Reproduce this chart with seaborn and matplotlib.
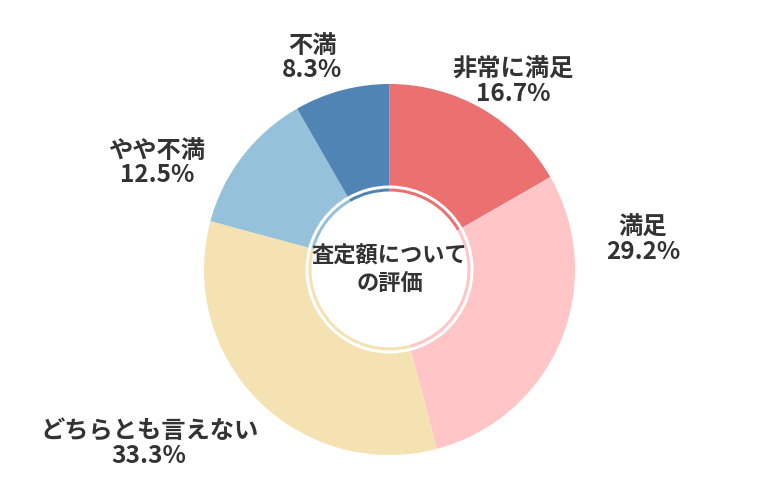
import matplotlib.pyplot as plt
import seaborn as sns

# survey result (percent)
categories = ['非常に満足', '満足', 'どちらとも言えない', 'やや不満', '不満']
shares = [16.7, 29.2, 33.3, 12.5, 8.3]
colors = ['#EB7070', '#FFC5C7', '#F5E2B3', '#95C1DA', '#4F84B5']
center_title = '査定額について\nの評価'

# label anchor positions in pixel coords (x, y from top)
label_pos = [(513, 82), (643, 240), (149, 444), (157, 163), (312, 58)]

sns.set_theme(style='white')
plt.rcParams['font.family'] = ['Noto Sans CJK JP', 'DejaVu Sans']

fig = plt.figure(figsize=(7.8, 5), dpi=100)
ax = fig.add_axes([0, 0, 1, 1])

cx, cy = 389.5, 500 - 269.5
r_out = 185.5

ax.pie(shares, colors=colors, startangle=90, counterclock=False,
       center=(cx, cy), radius=r_out, frame=True,
       wedgeprops=dict(width=r_out - 84, edgecolor='none', linewidth=0))
# thin inner ring
ax.pie(shares, colors=colors, startangle=90, counterclock=False,
       center=(cx, cy), radius=81, frame=True,
       wedgeprops=dict(width=3, edgecolor='none', linewidth=0))
ax.set_xlim(0, 780)
ax.set_ylim(0, 500)
ax.set_aspect('equal')
ax.axis('off')

ax.text(cx, cy, center_title, ha='center', va='center', fontsize=16,
        fontweight='bold', color='#333333', linespacing=1.25)

for name, val, (lx, ly) in zip(categories, shares, label_pos):
    ax.text(lx, 500 - ly, f'{name}\n{val}%', ha='center', va='center',
            fontsize=17.5, fontweight='bold', color='#333333', linespacing=1.05)

fig.savefig('out.png', dpi=100)
